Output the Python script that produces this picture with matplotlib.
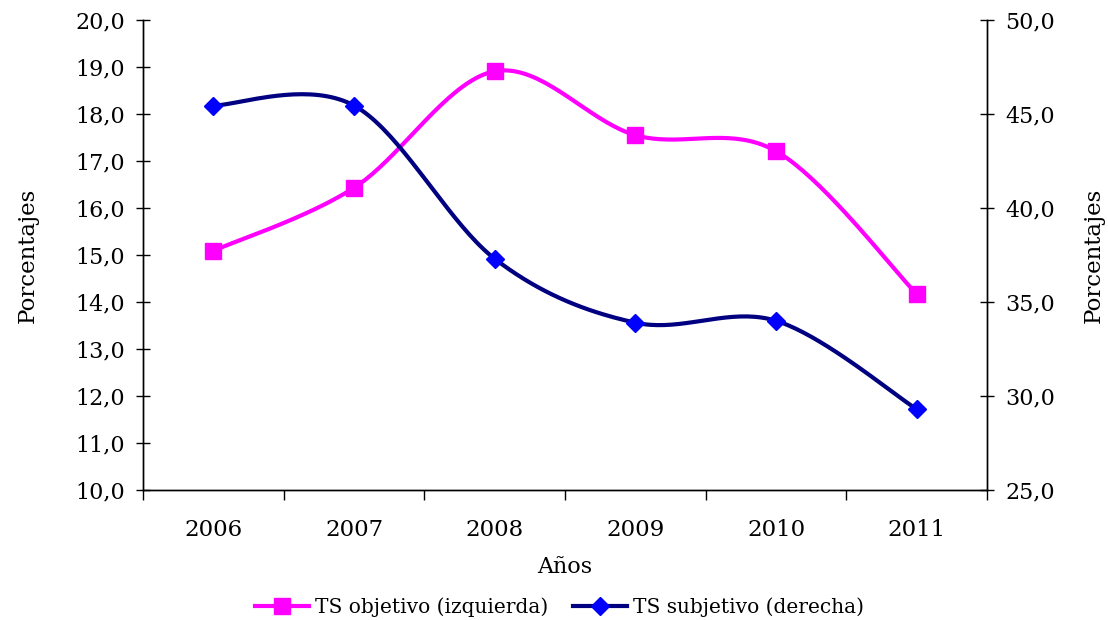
import numpy as np
import matplotlib.pyplot as plt
from matplotlib.lines import Line2D
from matplotlib.ticker import FuncFormatter

years = ["2006", "2007", "2008", "2009", "2010", "2011"]
ts_objetivo = [15.09, 16.43, 18.91, 17.55, 17.21, 14.17]   # left axis
ts_subjetivo = [45.45, 45.45, 37.30, 33.90, 34.00, 29.30]  # right axis

PINK = "#FF00FF"
NAVY = "#000080"
BLUE = "#0000FF"


def smooth(x, y, n=40):
    # Excel-like smoothed line: Catmull-Rom through the points
    x = np.asarray(x, float)
    y = np.asarray(y, float)
    px = np.concatenate([[x[0]], x, [x[-1]]])
    py = np.concatenate([[y[0]], y, [y[-1]]])
    xs, ys = [], []
    t = np.linspace(0, 1, n)
    for i in range(1, len(px) - 2):
        p0, p1, p2, p3 = [np.array([px[j], py[j]]) for j in range(i - 1, i + 3)]
        c1 = p1 + (p2 - p0) / 6
        c2 = p2 - (p3 - p1) / 6
        b = ((1 - t) ** 3)[:, None] * p1 + (3 * (1 - t) ** 2 * t)[:, None] * c1 \
            + (3 * (1 - t) * t ** 2)[:, None] * c2 + (t ** 3)[:, None] * p2
        xs.append(b[:, 0])
        ys.append(b[:, 1])
    return np.concatenate(xs), np.concatenate(ys)


plt.rcParams["font.family"] = ["DejaVu Serif"]

fig = plt.figure(figsize=(11.08, 6.2), dpi=100)
ax = fig.add_axes([0.1291, 0.2097, 0.7617, 0.758])
ax2 = ax.twinx()

x = np.arange(len(years))
sx, sy = smooth(x, ts_objetivo)
ax.plot(sx, sy, color=PINK, lw=3, zorder=3)
ax.plot(x, ts_objetivo, ls="none", marker="s", ms=11, color=PINK, zorder=4)

sx2, sy2 = smooth(x, ts_subjetivo)
ax2.plot(sx2, sy2, color=NAVY, lw=3, zorder=3)
ax2.plot(x, ts_subjetivo, ls="none", marker="D", ms=9, color=BLUE, zorder=4)

fmt = FuncFormatter(lambda v, p: f"{v:.1f}".replace(".", ","))

ax.set_xlim(-0.5, 5.5)
ax.set_ylim(10, 20)
ax.set_yticks(np.arange(10, 20.1, 1))
ax.yaxis.set_major_formatter(fmt)
ax2.set_ylim(25, 50)
ax2.set_yticks(np.arange(25, 50.1, 5))
ax2.yaxis.set_major_formatter(fmt)

ax.set_xticks(np.arange(-0.5, 5.6, 1))
ax.set_xticklabels([])
ax.set_xticks(x, minor=True)
ax.set_xticklabels(years, minor=True)
ax.tick_params(axis="x", which="major", length=7, direction="out", width=1)
ax.tick_params(axis="x", which="minor", length=0, pad=21, labelsize=16.5)
ax.tick_params(axis="y", length=10, direction="inout", width=1, labelsize=16, pad=8)
ax2.tick_params(axis="y", length=10, direction="inout", width=1, labelsize=16, pad=8)

for a in (ax, ax2):
    a.spines["top"].set_visible(False)
    for s in ("left", "right", "bottom"):
        a.spines[s].set_linewidth(1)

ax.set_ylabel("Porcentajes", fontsize=16.5, labelpad=26)
ax2.set_ylabel("Porcentajes", fontsize=16.5, labelpad=20)
ax.set_xlabel("Años", fontsize=16, labelpad=11)

handles = [
    Line2D([], [], color=PINK, lw=3, marker="s", ms=11),
    Line2D([], [], color=NAVY, lw=3, marker="D", ms=9, mfc=BLUE, mec=BLUE),
]
fig.legend(handles, ["TS objetivo (izquierda)", "TS subjetivo (derecha)"],
           loc="center", bbox_to_anchor=(0.505, 0.02), ncol=2, frameon=False,
           fontsize=14.5, handlelength=2.7, columnspacing=1.2, handletextpad=0.3)

fig.savefig("out.png", dpi=100)
